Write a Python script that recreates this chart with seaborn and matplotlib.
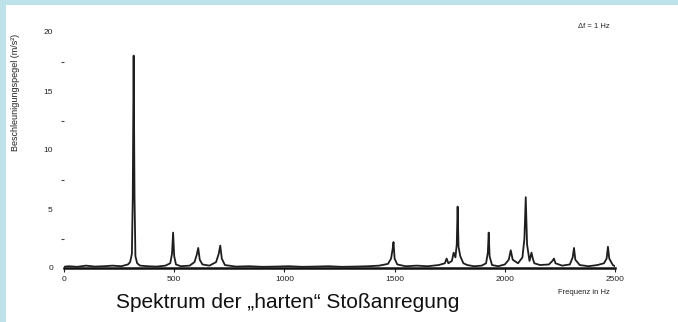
import matplotlib
matplotlib.use("Agg")
import matplotlib.pyplot as plt
from matplotlib.patches import Rectangle
from matplotlib.ticker import MultipleLocator
import numpy as np
import pandas as pd
import seaborn as sns

# Spectrum samples: frequency (Hz) and acceleration amplitude (m/s²)
freq_hz = [0, 20, 60, 100, 140, 180, 220, 260, 290, 300, 308, 312, 316, 320, 324, 332,
           345, 380, 420, 460, 482, 490, 495, 500, 508, 530, 570, 592, 602, 609, 616,
           628, 660, 690, 702, 709, 716, 730, 780, 840, 900, 960, 1020, 1080, 1140,
           1200, 1260, 1320, 1380, 1430, 1470, 1484, 1491, 1495, 1500, 1512, 1550, 1600,
           1650, 1700, 1728, 1736, 1744, 1760, 1768, 1776, 1782, 1786, 1790, 1798, 1812,
           1830, 1860, 1895, 1915, 1923, 1927, 1931, 1942, 1970, 2000, 2018, 2027, 2036,
           2060, 2080, 2089, 2095, 2101, 2112, 2121, 2127, 2134, 2160, 2200, 2216, 2223,
           2230, 2260, 2295, 2308, 2314, 2320, 2340, 2380, 2420, 2450, 2462, 2468, 2474,
           2490, 2500]
amp_ms2 = [0.10, 0.15, 0.10, 0.20, 0.12, 0.15, 0.20, 0.15, 0.30, 0.50, 1.20, 6.00,
           18.00, 6.00, 1.00, 0.40, 0.20, 0.15, 0.12, 0.20, 0.40, 1.20, 3.00, 1.00,
           0.30, 0.15, 0.20, 0.50, 1.10, 1.70, 0.70, 0.30, 0.20, 0.50, 1.20, 1.90,
           0.80, 0.25, 0.12, 0.15, 0.10, 0.12, 0.15, 0.10, 0.12, 0.15, 0.10, 0.12,
           0.15, 0.20, 0.35, 0.80, 1.60, 2.20, 0.80, 0.30, 0.15, 0.20, 0.15, 0.25,
           0.40, 0.80, 0.40, 0.60, 1.30, 0.90, 2.00, 5.20, 1.80, 1.00, 0.40, 0.25,
           0.15, 0.20, 0.40, 1.30, 3.00, 1.00, 0.25, 0.15, 0.30, 0.70, 1.50, 0.70,
           0.40, 0.90, 2.50, 6.00, 2.00, 0.60, 1.30, 0.80, 0.40, 0.25, 0.30, 0.60,
           0.80, 0.40, 0.20, 0.30, 0.90, 1.70, 0.70, 0.25, 0.15, 0.25, 0.40, 0.80,
           1.80, 0.80, 0.25, 0.15]

x_ticks = [0, 500, 1000, 1500, 2000, 2500]
y_ticks = [0, 5, 10, 15, 20]

spectrum = pd.DataFrame({"Frequenz": freq_hz, "Amplitude": amp_ms2})

sns.set_theme(style="white")
plt.rcParams["font.family"] = ["Liberation Sans", "DejaVu Sans"]

W, H = 678, 322
fig = plt.figure(figsize=(W / 100, H / 100), dpi=100)
fig.patch.set_facecolor("#bde2ea")
# white sheet with the light-blue frame showing at top and left
fig.add_artist(Rectangle((6 / W, 0), 1 - 6 / W, 1 - 5 / H,
                         transform=fig.transFigure, facecolor="white",
                         edgecolor="none", zorder=-10))

ax = fig.add_axes([64 / W, (H - 268) / H, (615 - 64) / W, (268 - 32) / H])
ax.set_zorder(5)
ax.set_facecolor("none")

sns.lineplot(data=spectrum, x="Frequenz", y="Amplitude", ax=ax,
             color="#1e1e1e", linewidth=1.3, sort=True)

ax.set_xlim(0, 2500)
ax.set_ylim(0, 20)
ax.set_xticks(x_ticks)
ax.set_xticklabels([str(v) for v in x_ticks])
ax.set_yticks(y_ticks)
ax.set_yticklabels([str(v) for v in y_ticks])
ax.yaxis.set_minor_locator(MultipleLocator(2.5))

for side in ("left", "right", "top"):
    ax.spines[side].set_visible(False)
ax.spines["bottom"].set_linewidth(1.8)
ax.spines["bottom"].set_color("#111111")
ax.spines["bottom"].set_zorder(1)

ax.tick_params(axis="x", which="major", direction="out", length=3, width=0.8,
               labelsize=6, pad=3, colors="#222222", bottom=True)
ax.tick_params(axis="y", which="major", length=0, labelsize=6, pad=8,
               colors="#222222", left=True)
ax.tick_params(axis="y", which="minor", length=2, width=0.8, colors="#444444", left=True)

ax.set_xlabel("")
ax.set_ylabel("Beschleunigungspegel (m/s²)", fontsize=6.5, color="#222222")
ax.yaxis.set_label_coords(-0.08, 0.745)

fig.text(610 / W, 1 - 292 / H, "Frequenz in Hz", fontsize=5.5, color="#222222",
         ha="right", va="center")
fig.text(610 / W, 1 - 27 / H, "Δf = 1 Hz", fontsize=5.5, color="#222222",
         ha="right", va="center")
fig.text(288 / W, 1 - 302 / H, "Spektrum der „harten“ Stoßanregung", fontsize=15,
         color="#111111", ha="center", va="center")

fig.savefig("out.png", dpi=100, facecolor=fig.get_facecolor())
